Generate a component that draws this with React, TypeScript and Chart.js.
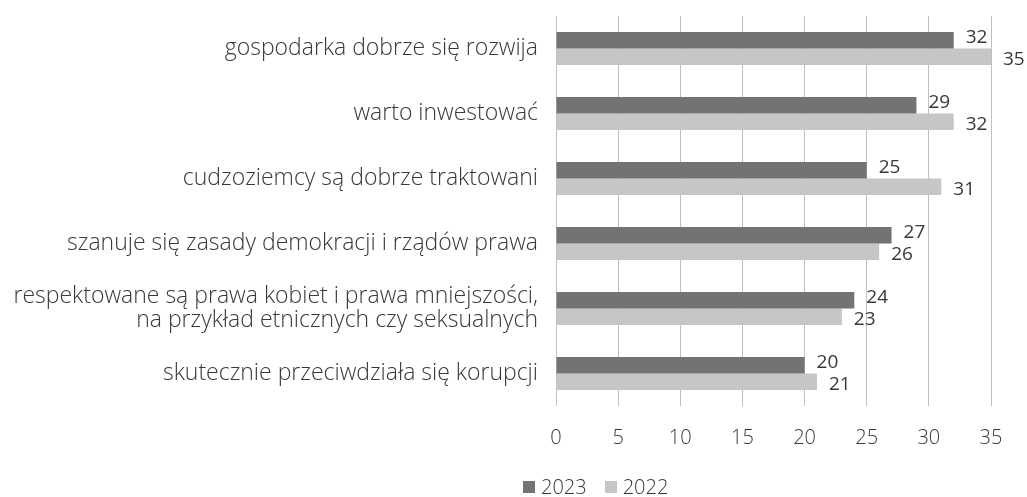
import React, { useEffect, useRef } from "react";
import { Chart, registerables } from "chart.js";

Chart.register(...registerables);

const categories: (string | string[])[] = [
  "gospodarka dobrze się rozwija",
  "warto inwestować",
  "cudzoziemcy są dobrze traktowani",
  "szanuje się zasady demokracji i rządów prawa",
  ["respektowane są prawa kobiet i prawa mniejszości,", "na przykład etnicznych czy seksualnych"],
  "skutecznie przeciwdziała się korupcji",
];
const values2023 = [32, 29, 25, 27, 24, 20];
const values2022 = [35, 32, 31, 26, 23, 21];
const xTicks = [0, 5, 10, 15, 20, 25, 30, 35];
const seriesNames = ["2023", "2022"];
const seriesColors = ["#737373", "#c6c6c5"];

const FONT = "'Open Sans', sans-serif";
const TEXT = "#383838";

const valueLabels = {
  id: "valueLabels",
  afterDatasetsDraw(chart: any) {
    const ctx = chart.ctx;
    ctx.save();
    ctx.font = `400 19px ${FONT}`;
    ctx.fillStyle = TEXT;
    ctx.textAlign = "left";
    ctx.textBaseline = "middle";
    chart.data.datasets.forEach((ds: any, di: number) => {
      const meta = chart.getDatasetMeta(di);
      meta.data.forEach((el: any, i: number) => {
        const dy = di === 0 ? -3 : 3;
        ctx.fillText(String(ds.data[i]), el.x + 12, el.y + dy);
      });
    });
    ctx.restore();
  },
};

export default function App() {
  const ref = useRef<HTMLCanvasElement>(null);
  useEffect(() => {
    if (!ref.current) return;
    const chart = new Chart(ref.current, {
      type: "bar",
      data: {
        labels: categories,
        datasets: [
          {
            label: seriesNames[0],
            data: values2023,
            backgroundColor: seriesColors[0],
            categoryPercentage: 0.51,
            barPercentage: 1.0,
          },
          {
            label: seriesNames[1],
            data: values2022,
            backgroundColor: seriesColors[1],
            categoryPercentage: 0.51,
            barPercentage: 1.0,
          },
        ],
      },
      options: {
        indexAxis: "y",
        animation: false,
        responsive: true,
        maintainAspectRatio: false,
        layout: { padding: { left: 0, right: 36, top: 16, bottom: 41 } },
        scales: {
          x: {
            min: 0,
            max: 35,
            afterBuildTicks(scale: any) {
              scale.ticks = xTicks.map((v) => ({ value: v }));
            },
            afterFit(scale: any) {
              scale.height = 50;
              scale.paddingLeft = 0;
              scale.paddingRight = 0;
            },
            grid: { color: "#bfbfbf", lineWidth: 1, drawTicks: false },
            border: { display: false },
            ticks: {
              padding: 20,
              color: TEXT,
              font: { family: FONT, size: 20, weight: "300" },
            },
          },
          y: {
            afterFit(scale: any) {
              scale.width = 556;
              scale.paddingTop = 0;
              scale.paddingBottom = 0;
            },
            grid: { display: false },
            border: { display: false },
            ticks: {
              padding: 10,
              color: TEXT,
              font: { family: FONT, size: 23, weight: "300", lineHeight: 1.05 },
            },
          },
        },
        plugins: {
          legend: { display: false },
          tooltip: { enabled: false },
        },
      },
      plugins: [valueLabels],
    });
    return () => chart.destroy();
  }, []);
  return (
    <div style={{ position: "fixed", left: 0, top: 0, width: 1027, height: 497, background: "#fff" }}>
      <canvas ref={ref} />
      <div
        style={{
          position: "absolute",
          left: 523,
          top: 477,
          display: "flex",
          alignItems: "center",
          fontFamily: FONT,
          fontWeight: 300,
          fontSize: 20,
          color: TEXT,
          lineHeight: "20px",
        }}
      >
        {seriesNames.map((n, i) => (
          <div key={n} style={{ display: "flex", alignItems: "center", marginRight: 18 }}>
            <span style={{ display: "inline-block", width: 12, height: 12, background: seriesColors[i], marginRight: 6 }} />
            <span>{n}</span>
          </div>
        ))}
      </div>
    </div>
  );
}
